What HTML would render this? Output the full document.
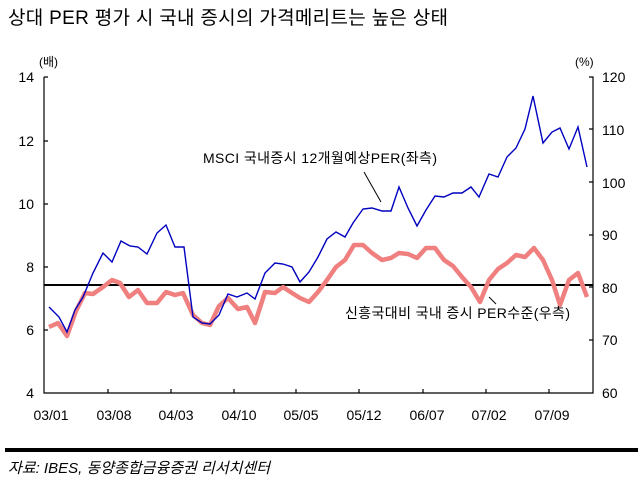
<!DOCTYPE html>
<html><head><meta charset="utf-8"><style>
body{margin:0;background:#fff;width:643px;height:482px;overflow:hidden}
svg{display:block}
text{font-family:"Liberation Sans","Noto Sans CJK KR",sans-serif}
</style></head><body>
<svg width="643" height="482" viewBox="0 0 643 482">
<text x="8" y="24" font-size="19" fill="#000" textLength="440">상대 PER 평가 시 국내 증시의 가격메리트는 높은 상태</text>
<g stroke="#000" stroke-width="1.2" fill="none">
<path d="M44,77 H48 M44,77 V393 H593 V77 H589"/>
<path d="M44,141 H48 M44,204 H48 M44,267 H48 M44,330 H48"/>
<path d="M593,129 H589 M593,182 H589 M593,235 H589 M593,287 H589 M593,340 H589"/>
<path d="M108,393 V389 M171,393 V389 M234,393 V389 M296,393 V389 M359,393 V389 M423,393 V389 M486,393 V389 M549,393 V389"/>
</g>
<g font-size="14" fill="#000" text-anchor="end">
<text x="34" y="82">14</text><text x="34" y="146">12</text><text x="34" y="209">10</text>
<text x="34" y="272">8</text><text x="34" y="335">6</text><text x="34" y="398">4</text>
</g>
<g font-size="14" fill="#000">
<text x="602" y="82">120</text><text x="602" y="135">110</text><text x="602" y="188">100</text>
<text x="602" y="240">90</text><text x="602" y="293">80</text><text x="602" y="345">70</text><text x="602" y="398">60</text>
<text x="39" y="66" font-size="12">(배)</text><text x="575" y="66" font-size="12">(%)</text>
</g>
<g font-size="14" fill="#000" text-anchor="middle">
<text x="51" y="420">03/01</text><text x="114" y="420">03/08</text><text x="176" y="420">04/03</text>
<text x="239" y="420">04/10</text><text x="301" y="420">05/05</text><text x="364" y="420">05/12</text>
<text x="427" y="420">06/07</text><text x="489" y="420">07/02</text><text x="552" y="420">07/09</text>
</g>
<line x1="44" y1="285" x2="593" y2="285" stroke="#000" stroke-width="2"/>
<polyline fill="none" stroke="#f08080" stroke-width="4.5" stroke-linejoin="round" points="49,327 58,323 67,336 76,311 85,293 93,294 103,287 112,280 120,283 129,297 138,290 147,303 157,303 166,292 175,295 183,293 193,315 202,323 210,325 219,306 228,298 238,309 247,307 255,323 265,292 275,293 283,287 292,293 300,298 309,302 318,292 327,280 336,267 345,260 354,245 363,245 372,253 382,260 391,258 399,253 408,254 417,258 426,248 435,248 444,260 453,266 462,277 471,287 480,302 489,280 498,269 507,263 516,255 525,257 534,248 543,260 552,280 560,305 569,280 578,273 587,297"/>
<polyline fill="none" stroke="#0000c0" stroke-width="1.4" points="49,307 59,317 67,332 75,310 83,297 93,273 103,253 112,262 121,241 130,246 138,247 147,254 157,233 166,225 175,247 184,247 193,317 202,323 210,324 219,315 228,294 237,297 247,293 255,299 265,273 275,263 283,264 292,267 300,282 309,272 318,257 327,239 336,232 345,237 353,223 363,209 372,208 382,211 391,211 399,187 408,208 417,226 426,210 435,196 444,197 453,193 462,193 471,187 479,197 489,174 498,177 507,157 516,148 525,129 533,96 543,143 552,132 560,128 569,149 578,127 587,167"/>
<text x="203" y="163" font-size="14" fill="#000" textLength="234">MSCI 국내증시 12개월예상PER(좌측)</text>
<line x1="364" y1="172" x2="381" y2="202" stroke="#000" stroke-width="1"/>
<text x="345" y="318" font-size="14" fill="#000" textLength="225">신흥국대비 국내 증시 PER수준(우측)</text>
<line x1="489" y1="297" x2="496" y2="304" stroke="#000" stroke-width="1"/>
<rect x="5" y="448" width="633" height="4" fill="#000"/>
<text x="8" y="473" font-size="15" font-style="italic" fill="#000">자료: IBES, 동양종합금융증권 리서치센터</text>
</svg>
</body></html>
